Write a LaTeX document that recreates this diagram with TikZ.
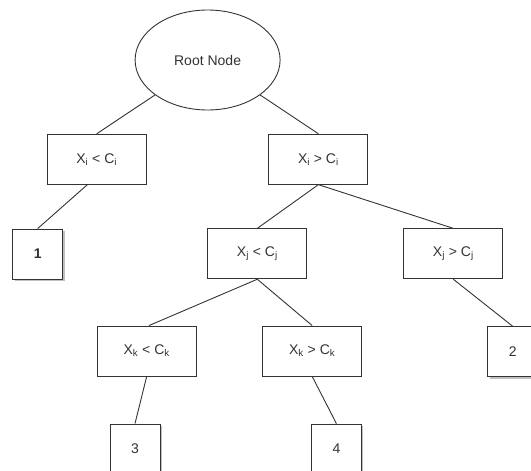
\documentclass[tikz,border=0pt]{standalone}
\usepackage{fontspec}
\setmainfont{Liberation Sans}
\usetikzlibrary{shapes.geometric,shadows}
\begin{document}
\begin{tikzpicture}[x=1pt,y=-1pt,
  every node/.style={font=\fontsize{14}{16}\selectfont, text=black!80},
  testbox/.style={draw=black!80, line width=0.9pt, fill=white, minimum width=99pt, minimum height=50pt, inner sep=0pt},
  leafbox/.style={draw=black!80, line width=0.9pt, fill=white, minimum width=50pt, minimum height=50pt, inner sep=0pt,
    drop shadow={shadow xshift=2pt, shadow yshift=-2pt, fill=black!25, opacity=1}},
  edge/.style={draw=black!80, line width=0.9pt}]
\useasboundingbox (0,0) rectangle (531,471);
\node[ellipse, draw=black!80, line width=0.9pt, minimum width=145pt, minimum height=100pt, inner sep=0pt] (root) at (207.6,60) {Root Node};
\node[testbox] (li) at (96.7,159.2) {X\textsubscript{i} < C\textsubscript{i}};
\node[testbox] (ri) at (318.4,159.2) {X\textsubscript{i} > C\textsubscript{i}};
\node[leafbox] (n1) at (37.7,254) {\bfseries 1};
\node[testbox] (lj) at (257.3,253.8) {X\textsubscript{j} < C\textsubscript{j}};
\node[testbox] (rj) at (453.3,253.8) {X\textsubscript{j} > C\textsubscript{j}};
\node[leafbox] (n2) at (512.7,351.7) {2};
\node[testbox] (lk) at (146.7,351) {X\textsubscript{k} < C\textsubscript{k}};
\node[testbox] (rk) at (312.2,351) {X\textsubscript{k} > C\textsubscript{k}};
\node[leafbox] (n3) at (135,449) {3};
\node[leafbox] (n4) at (336.4,449) {4};
\draw[edge] (root) -- (li.north);
\draw[edge] (root) -- (ri.north);
\draw[edge] ([xshift=-9.3pt]li.south) -- (n1.north);
\draw[edge] (ri.south) -- (lj.north);
\draw[edge] (ri.south) -- (rj.north);
\draw[edge] (lj.south) -- ([xshift=2.3pt]lk.north);
\draw[edge] (lj.south) -- (rk.north);
\draw[edge] (rj.south) -- (n2.north);
\draw[edge] (lk.south) -- (n3.north);
\draw[edge] (rk.south) -- (n4.north);
\end{tikzpicture}
\end{document}
